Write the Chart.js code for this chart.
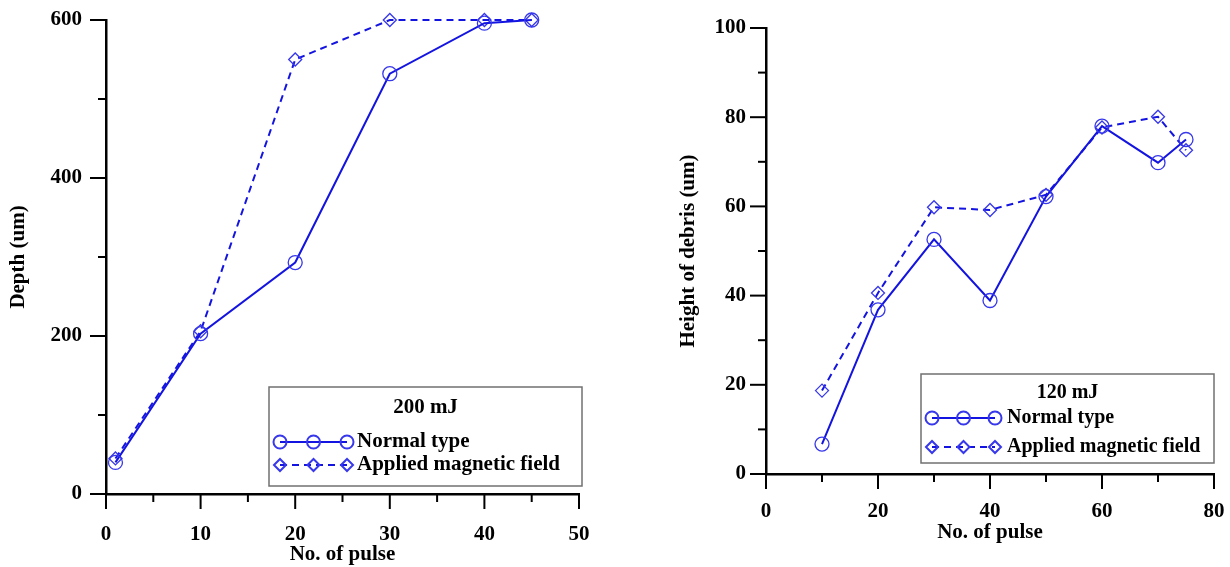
<!DOCTYPE html>
<html>
<head>
<meta charset="utf-8">
<script src="https://cdn.jsdelivr.net/npm/chart.js@4.4.0/dist/chart.umd.min.js"></script>
<style>
html, body { margin: 0; padding: 0; background: #fff; }
#wrap { position: relative; width: 1230px; height: 567px; }
.pane { position: absolute; top: 0; width: 615px; height: 567px; }
#leftPane { left: 0; }
#rightPane { left: 615px; }
</style>
</head>
<body>
<div id="wrap">
  <div class="pane" id="leftPane"><canvas id="depthChart"></canvas></div>
  <div class="pane" id="rightPane"><canvas id="debrisChart"></canvas></div>
</div>
<script>
// 200 mJ : depth vs pulses
var depthPulses   = [1, 10, 20, 30, 40, 45];
var depthNormal   = [40, 203, 293, 532, 596, 600];
var depthMagnetic = [45, 206, 550, 600, 600, 600];
var depthXLabels  = [0, 10, 20, 30, 40, 50];
var depthYLabels  = [0, 200, 400, 600];

// 120 mJ : height of debris vs pulses
var debrisPulses   = [10, 20, 30, 40, 50, 60, 70, 75];
var debrisNormal   = [6.7, 36.8, 52.6, 38.9, 62.2, 78, 69.8, 75];
var debrisMagnetic = [18.7, 40.6, 59.8, 59.2, 62.6, 77.7, 80.1, 72.6];
var debrisXLabels  = [0, 20, 40, 60, 80];
var debrisYLabels  = [0, 20, 40, 60, 80, 100];

var seriesNames = ['Normal type', 'Applied magnetic field'];

var FONT = 'Liberation Serif';
var LINE_BLUE = 'rgb(20,20,225)';
var MARK_BLUE = 'rgb(55,55,235)';

function pairs(xs, ys) {
  return xs.map(function (x, i) { return { x: x, y: ys[i] }; });
}

function makeDatasets(xs, normal, magnetic) {
  return [{
    label: seriesNames[0],
    data: pairs(xs, normal),
    borderColor: LINE_BLUE,
    borderWidth: 2,
    pointStyle: 'circle',
    pointRadius: 7,
    pointBorderWidth: 1.3,
    pointBorderColor: MARK_BLUE,
    pointBackgroundColor: 'rgba(255,255,255,0)',
    tension: 0,
    clip: false
  }, {
    label: seriesNames[1],
    data: pairs(xs, magnetic),
    borderColor: LINE_BLUE,
    borderWidth: 2,
    borderDash: [7, 5],
    pointStyle: 'rectRot',
    pointRadius: 6.5,
    pointBorderWidth: 1.3,
    pointBorderColor: MARK_BLUE,
    pointBackgroundColor: 'rgba(255,255,255,0)',
    tension: 0,
    clip: false
  }];
}

// tick marks: long for labelled values, short for the others
var tickMarks = {
  id: 'tickMarks',
  afterDraw: function (chart, args, o) {
    var ctx = chart.ctx, a = chart.chartArea;
    var xs = chart.scales.x, ys = chart.scales.y;
    ctx.save();
    ctx.strokeStyle = '#000';
    ctx.lineWidth = 2;
    xs.ticks.forEach(function (t) {
      var px = xs.getPixelForValue(t.value);
      var len = o.xLabels.indexOf(t.value) >= 0 ? 15 : 8;
      ctx.beginPath(); ctx.moveTo(px, a.bottom); ctx.lineTo(px, a.bottom + len); ctx.stroke();
    });
    ys.ticks.forEach(function (t) {
      var py = ys.getPixelForValue(t.value);
      var len = o.yLabels.indexOf(t.value) >= 0 ? 16 : 8;
      ctx.beginPath(); ctx.moveTo(a.left, py); ctx.lineTo(a.left - len, py); ctx.stroke();
    });
    ctx.restore();
  }
};

// boxed legend inside the plot, bottom right
var legendBox = {
  id: 'legendBox',
  afterDraw: function (chart, args, o) {
    var ctx = chart.ctx, a = chart.chartArea;
    var right = a.right + o.dx, bottom = a.bottom - o.dy;
    var left = right - o.w, top = bottom - o.h;
    ctx.save();
    ctx.fillStyle = '#fff';
    ctx.fillRect(left, top, o.w, o.h);
    ctx.strokeStyle = '#707070';
    ctx.lineWidth = 1.5;
    ctx.strokeRect(left, top, o.w, o.h);
    ctx.fillStyle = '#000';
    ctx.font = 'bold ' + o.size + 'px "' + FONT + '"';
    ctx.textBaseline = 'middle';
    ctx.textAlign = 'center';
    ctx.fillText(o.title, left + o.w / 2, top + o.rows[0]);
    ctx.textAlign = 'left';
    chart.data.datasets.forEach(function (ds, i) {
      var y = top + o.rows[i + 1];
      var x0 = left + o.lineStart, x1 = left + o.lineEnd;
      ctx.strokeStyle = ds.borderColor;
      ctx.lineWidth = ds.borderWidth;
      ctx.setLineDash(ds.borderDash || []);
      ctx.beginPath(); ctx.moveTo(x0, y); ctx.lineTo(x1, y); ctx.stroke();
      ctx.setLineDash([]);
      ctx.strokeStyle = ds.pointBorderColor;
      ctx.fillStyle = 'rgba(255,255,255,0)';
      [x0, (x0 + x1) / 2, x1].forEach(function (mx) {
        Chart.helpers.drawPoint(ctx, {
          pointStyle: ds.pointStyle, rotation: 0,
          radius: ds.pointRadius - 0.5, borderWidth: ds.pointBorderWidth
        }, mx, y);
      });
      ctx.fillStyle = '#000';
      ctx.fillText(ds.label, left + o.textX, y);
    });
    ctx.restore();
  }
};

function axisFont(size) {
  return { family: FONT, weight: 'bold', size: size };
}

function makeChart(canvasId, cfg) {
  var ctx = document.getElementById(canvasId).getContext('2d');
  return new Chart(ctx, {
    type: 'line',
    data: { datasets: makeDatasets(cfg.xs, cfg.normal, cfg.magnetic) },
    plugins: [tickMarks, legendBox],
    options: {
      responsive: true,
      maintainAspectRatio: false,
      animation: false,
      events: [],
      layout: { padding: cfg.padding },
      plugins: {
        legend: { display: false },
        tooltip: { enabled: false },
        tickMarks: { xLabels: cfg.xLabels, yLabels: cfg.yLabels },
        legendBox: cfg.legend
      },
      scales: {
        x: {
          type: 'linear',
          min: cfg.xMin, max: cfg.xMax,
          afterFit: function (s) { s.height = cfg.xHeight; s.paddingLeft = 0; s.paddingRight = 0; },
          ticks: {
            stepSize: cfg.xStep, autoSkip: false, maxRotation: 0,
            padding: cfg.xPad, color: '#000', font: axisFont(21),
            callback: function (v) { return cfg.xLabels.indexOf(v) >= 0 ? v : ''; }
          },
          grid: { display: true, drawOnChartArea: false, drawTicks: true, tickLength: 15, tickColor: 'rgba(0,0,0,0)' },
          border: { display: true, color: '#000', width: 2.5 },
          title: { display: true, text: 'No. of pulse', color: '#000', font: axisFont(21), padding: { top: 0, bottom: cfg.xTitlePad } }
        },
        y: {
          min: cfg.yMin, max: cfg.yMax,
          afterFit: function (s) { s.width = cfg.yWidth; s.paddingTop = 0; s.paddingBottom = 0; },
          ticks: {
            stepSize: cfg.yStep, autoSkip: false,
            padding: cfg.yPad, color: '#000', font: axisFont(21),
            callback: function (v) { return cfg.yLabels.indexOf(v) >= 0 ? v : ''; }
          },
          grid: { display: true, drawOnChartArea: false, drawTicks: true, tickLength: 15, tickColor: 'rgba(0,0,0,0)' },
          border: { display: true, color: '#000', width: 2.5 },
          title: { display: true, text: cfg.yTitle, color: '#000', font: axisFont(21), padding: { top: cfg.yTitlePad, bottom: 0 } }
        }
      }
    }
  });
}

makeChart('depthChart', {
  xs: depthPulses, normal: depthNormal, magnetic: depthMagnetic,
  xLabels: depthXLabels, yLabels: depthYLabels,
  xMin: 0, xMax: 50, xStep: 5, yMin: 0, yMax: 600, yStep: 100,
  padding: { left: 0, top: 20, right: 36, bottom: 0 },
  xHeight: 73, yWidth: 106, xPad: 13, yPad: 9,
  xTitlePad: 0, yTitlePad: 6,
  yTitle: 'Depth (um)',
  legend: { title: '200 mJ', w: 313, h: 99, dx: 3, dy: 8, size: 21,
            rows: [21, 55, 78], lineStart: 11, lineEnd: 78, textX: 88 }
});

makeChart('debrisChart', {
  xs: debrisPulses, normal: debrisNormal, magnetic: debrisMagnetic,
  xLabels: debrisXLabels, yLabels: debrisYLabels,
  xMin: 0, xMax: 80, xStep: 10, yMin: 0, yMax: 100, yStep: 10,
  padding: { left: 0, top: 28, right: 16, bottom: 0 },
  xHeight: 93, yWidth: 151, xPad: 10, yPad: 5,
  xTitlePad: 22, yTitlePad: 61,
  yTitle: 'Height of debris (um)',
  legend: { title: '120 mJ', w: 293, h: 89, dx: 0, dy: 11, size: 20,
            rows: [19, 44, 73], lineStart: 11, lineEnd: 74, textX: 86 }
});
</script>
</body>
</html>
